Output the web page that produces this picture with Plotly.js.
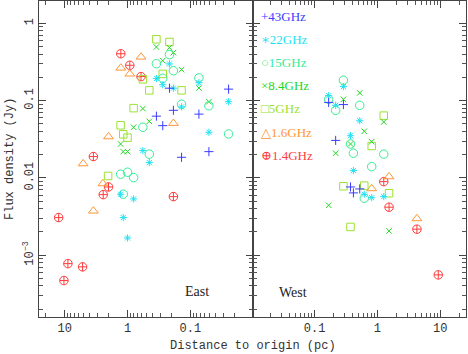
<!DOCTYPE html>
<html>
<head>
<meta charset="utf-8">
<script src="https://cdn.plot.ly/plotly-3.0.1.min.js"></script>
<style>html,body{margin:0;padding:0;background:#fff}#chart{width:468px;height:354px}</style>
</head>
<body>
<div id="chart"></div>
<script>
// ---------- data (distance in pc, flux density in Jy) ----------
var freqLabels = ['43GHz', '22GHz', '15GHz', '8.4GHz', '5GHz', '1.6GHz', '1.4GHz'];
var legendGlyphs = ['+', '\u2217', '\u25CB', '\u00D7', '\u25A1', '\u25B3', '\u2295'];

// East side
var east43x = [0.215, 0.0246, 0.186, 0.347, 0.073, 0.275, 0.0506, 0.138];
var east43y = [0.145, 0.141, 0.075, 0.063, 0.067, 0.0475, 0.0219, 0.0185];
var east22x = [0.215, 0.347, 0.275, 0.186, 0.073, 0.0246, 0.138, 0.0506, 0.57, 0.45, 1.29, 0.80, 1.17, 1.0];
var east22y = [0.299, 0.193, 0.161, 0.145, 0.171, 0.097, 0.083, 0.039, 0.0226, 0.0158, 0.00615, 0.00535, 0.00307, 0.00167];
var east15x = [0.215, 0.347, 0.186, 0.275, 0.073, 0.138, 0.0506, 0.57, 0.0246, 0.45, 1.29, 1.0, 0.80, 1.17];
var east15y = [0.394, 0.301, 0.244, 0.195, 0.197, 0.090, 0.086, 0.0453, 0.0371, 0.0203, 0.01117, 0.01186, 0.0101, 0.00615];
var east84x = [0.347, 0.215, 0.186, 0.275, 0.138, 0.073, 0.0506, 0.57, 0.45, 0.80, 1.29, 1.17, 1.0];
var east84y = [0.495, 0.485, 0.418, 0.330, 0.252, 0.146, 0.097, 0.079, 0.054, 0.0453, 0.0275, 0.0219, 0.0219];
var east5x  = [0.347, 0.215, 0.275, 0.57, 0.45, 0.138, 0.80, 1.29, 1.17, 1.0, 2.04];
var east5y  = [0.623, 0.575, 0.222, 0.189, 0.136, 0.136, 0.080, 0.048, 0.0367, 0.0332, 0.0106];
var east16x = [0.61, 1.28, 0.92, 0.186, 2.01, 5.1, 2.47, 3.5];
var east16y = [0.368, 0.265, 0.222, 0.051, 0.0342, 0.0153, 0.00844, 0.00374];
var east14x = [1.28, 0.92, 0.61, 3.5, 2.01, 2.44, 0.186, 12.5, 8.9, 5.2, 10.3];
var east14y = [0.405, 0.287, 0.205, 0.0189, 0.00764, 0.00608, 0.00573, 0.00307, 0.000778, 0.000706, 0.00047];

// West side
var west43x = [0.167, 0.287, 0.216, 0.372, 0.522, 0.414];
var west43y = [0.095, 0.089, 0.0306, 0.00764, 0.00721, 0.0064];
var west22x = [0.287, 0.167, 0.216, 0.522, 0.372, 0.414, 0.617, 0.81, 1.26];
var west22y = [0.152, 0.116, 0.087, 0.055, 0.0352, 0.01245, 0.00615, 0.00556, 0.00573];
var west15x = [0.287, 0.167, 0.216, 0.522, 0.372, 0.414, 1.26, 0.81, 0.617];
var west15y = [0.184, 0.104, 0.075, 0.087, 0.0275, 0.0209, 0.0203, 0.0140, 0.00547];
var west84x = [0.522, 0.287, 1.26, 0.617, 0.372, 0.81, 0.216, 0.167, 1.53];
var west84y = [0.126, 0.104, 0.053, 0.0402, 0.0275, 0.0295, 0.0209, 0.00443, 0.00206];
var west5x  = [1.26, 0.81, 0.287, 0.617, 1.53, 0.372];
var west5y  = [0.064, 0.0259, 0.00781, 0.00795, 0.00634, 0.00232];
var west16x = [1.53, 0.81, 4.25];
var west16y = [0.0104, 0.00728, 0.00298];
var west14x = [1.26, 1.53, 4.25, 9.3];
var west14y = [0.00895, 0.00418, 0.00217, 0.000556];

var yTickVals = [0.001, 0.01, 0.1, 1];
var yTickText = ['10<sup>\u22123</sup>', '0.01', '0.1', '1'];
var xTickVals = [0.1, 1, 10];
var xTickText = ['0.1', '1', '10'];

// ---------- styling ----------
var colors  = ['#3b3bff', '#22e2f2', '#36ec96', '#22d822', '#9be232', '#ff9636', '#ff3c3c'];
var symbols = ['cross-thin-open', 'asterisk-open', 'circle-open', 'x-thin-open', 'square-open', 'triangle-up-open', 'circle-cross-open'];
var sizes   = [6.5, 6, 8.5, 5.5, 7.5, 8.5, 8.5];

var eastX = [east43x, east22x, east15x, east84x, east5x, east16x, east14x];
var eastY = [east43y, east22y, east15y, east84y, east5y, east16y, east14y];
var westX = [west43x, west22x, west15x, west84x, west5x, west16x, west14x];
var westY = [west43y, west22y, west15y, west84y, west5y, west16y, west14y];

var traces = [];
for (var i = freqLabels.length - 1; i >= 0; i--) {
  var mk = {symbol: symbols[i], size: sizes[i], color: colors[i], line: {color: colors[i], width: 1}};
  traces.push({x: eastX[i], y: eastY[i], xaxis: 'x', yaxis: 'y', type: 'scatter', mode: 'markers',
               name: freqLabels[i], marker: mk, showlegend: false, cliponaxis: true});
  traces.push({x: westX[i], y: westY[i], xaxis: 'x2', yaxis: 'y2', type: 'scatter', mode: 'markers',
               name: freqLabels[i], marker: mk, showlegend: false, cliponaxis: true});
}

var minorVals = [];
for (var e = -4; e <= 1; e++) {
  for (var m = 2; m <= 9; m++) minorVals.push(m * Math.pow(10, e));
}

var tickFont = {family: 'Liberation Mono, DejaVu Sans Mono, monospace', size: 12, color: '#333'};
var axisCommon = {
  type: 'log', showgrid: false, zeroline: false, showline: true, linecolor: '#444', linewidth: 1,
  mirror: 'ticks', ticks: 'inside', ticklen: 7, tickwidth: 1, tickcolor: '#444',
  tickfont: tickFont,
  minor: {ticks: 'inside', ticklen: 4, tickwidth: 1, tickcolor: '#555', tickmode: 'array', tickvals: minorVals, showgrid: false}
};
function ax(extra) { return Object.assign({}, JSON.parse(JSON.stringify(axisCommon)), extra); }

var annotations = [];
var serif = 'Liberation Serif, DejaVu Serif, serif';
for (var k = 0; k < freqLabels.length; k++) {
  annotations.push({
    xref: 'paper', yref: 'paper', x: (259 - 39) / 427, y: 1 - (16 + k * 23.2 - 1) / 316,
    xanchor: 'left', yanchor: 'middle', showarrow: false,
    text: legendGlyphs[k] + freqLabels[k], font: {family: serif, size: 13, color: colors[k]}
  });
}
annotations.push({xref: 'paper', yref: 'paper', x: (197 - 39) / 427, y: 1 - (291 - 1) / 316,
  xanchor: 'center', yanchor: 'middle', showarrow: false, text: 'East',
  font: {family: serif, size: 14, color: '#222'}});
annotations.push({xref: 'paper', yref: 'paper', x: (293 - 39) / 427, y: 1 - (292 - 1) / 316,
  xanchor: 'center', yanchor: 'middle', showarrow: false, text: 'West',
  font: {family: serif, size: 14, color: '#222'}});
annotations.push({xref: 'paper', yref: 'paper', x: 0.5, y: -(346 - 317) / 316,
  xanchor: 'center', yanchor: 'middle', showarrow: false, text: 'Distance to origin (pc)',
  font: {family: 'Liberation Mono, DejaVu Sans Mono, monospace', size: 12, color: '#333'}});
annotations.push({xref: 'paper', yref: 'paper', x: -(39 - 10) / 427, y: 0.5,
  xanchor: 'center', yanchor: 'middle', showarrow: false, textangle: -90, text: 'Flux density (Jy)',
  font: {family: 'Liberation Mono, DejaVu Sans Mono, monospace', size: 12, color: '#333'}});

var layout = {
  width: 468, height: 354,
  margin: {l: 39, r: 2, t: 1, b: 37, pad: 0},
  paper_bgcolor: '#fff', plot_bgcolor: '#fff',
  showlegend: false,
  xaxis: ax({domain: [0, 0.5], range: [1.41, -1.99], anchor: 'y', tickmode: 'array', tickvals: xTickVals, ticktext: xTickText}),
  xaxis2: ax({domain: [0.5, 1], range: [-1.99, 1.41], anchor: 'y2', tickmode: 'array', tickvals: xTickVals, ticktext: xTickText}),
  yaxis: ax({domain: [0, 1], range: [-3.8, 0.29], anchor: 'x', tickmode: 'array', tickvals: yTickVals, ticktext: yTickText, tickangle: -90}),
  yaxis2: ax({domain: [0, 1], range: [-3.8, 0.29], anchor: 'x2', tickmode: 'array', tickvals: yTickVals, showticklabels: false}),
  annotations: annotations
};

Plotly.newPlot('chart', traces, layout, {displayModeBar: false, staticPlot: true});
</script>
</body>
</html>
